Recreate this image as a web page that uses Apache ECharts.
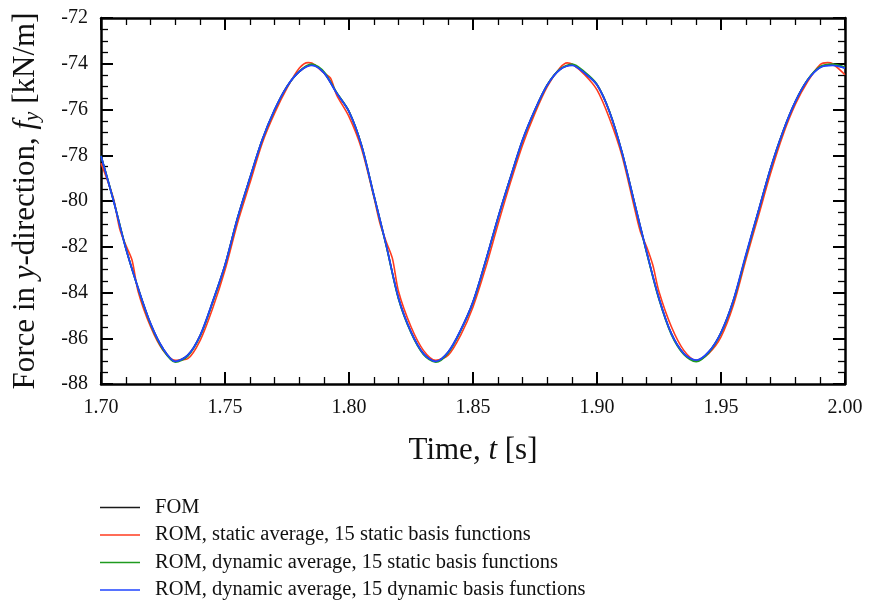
<!DOCTYPE html>
<html>
<head>
<meta charset="utf-8">
<script src="https://cdn.jsdelivr.net/npm/echarts@6/dist/echarts.min.js"></script>
<style>
  html, body { margin: 0; padding: 0; background: #fff; }
  #chart { width: 871px; height: 602px; }
</style>
</head>
<body>
<div id="chart"></div>
<script>
// Sample times [s] shared by the FOM and the two dynamic-average ROMs
const time = [
  1.700, 1.705, 1.710, 1.715, 1.720, 1.725, 1.730, 1.735, 1.740, 1.745,
  1.750, 1.755, 1.760, 1.765, 1.770, 1.775, 1.780, 1.785, 1.790, 1.795,
  1.800, 1.805, 1.810, 1.815, 1.820, 1.825, 1.830, 1.835, 1.840, 1.845,
  1.850, 1.855, 1.860, 1.865, 1.870, 1.875, 1.880, 1.885, 1.890, 1.895,
  1.900, 1.905, 1.910, 1.915, 1.920, 1.925, 1.930, 1.935, 1.940, 1.945,
  1.950, 1.955, 1.960, 1.965, 1.970, 1.975, 1.980, 1.985, 1.990, 1.995,
  2.000
];

// Full order model, f_y [kN/m]
const fom = [
  -78.03, -79.97, -82.07, -83.82, -85.36, -86.45, -87.00, -86.74, -85.87, -84.41,
  -82.80, -80.76, -79.01, -77.33, -76.01, -74.99, -74.34, -74.05, -74.41, -75.28,
  -76.09, -77.55, -79.74, -81.93, -84.26, -85.72, -86.67, -87.00, -86.60, -85.65,
  -84.41, -82.66, -80.76, -79.01, -77.33, -76.01, -74.92, -74.26, -74.05, -74.41,
  -74.92, -76.09, -77.84, -80.03, -82.22, -84.26, -85.80, -86.67, -86.97, -86.60,
  -85.75, -84.34, -82.40, -80.47, -78.57, -76.96, -75.65, -74.70, -74.16, -74.05,
  -74.19
];

// ROM, dynamic average, 15 static basis functions
const romDynStatic = [
  -78.02, -79.95, -82.05, -83.83, -85.40, -86.50, -87.05, -86.78, -85.90, -84.44,
  -82.82, -80.78, -79.02, -77.34, -76.03, -75.00, -74.32, -74.01, -74.36, -75.25,
  -76.08, -77.55, -79.75, -81.95, -84.30, -85.76, -86.71, -87.05, -86.64, -85.68,
  -84.44, -82.68, -80.78, -79.02, -77.35, -76.03, -74.92, -74.24, -74.01, -74.36,
  -74.90, -76.08, -77.85, -80.05, -82.25, -84.30, -85.84, -86.71, -87.02, -86.64,
  -85.78, -84.37, -82.42, -80.49, -78.59, -76.97, -75.66, -74.69, -74.12, -74.01,
  -74.15
];

// ROM, dynamic average, 15 dynamic basis functions
const romDynDynamic = [
  -78.03, -79.97, -82.07, -83.82, -85.36, -86.45, -87.01, -86.74, -85.87, -84.41,
  -82.80, -80.76, -79.01, -77.33, -76.01, -74.99, -74.34, -74.07, -74.41, -75.28,
  -76.09, -77.55, -79.74, -81.93, -84.26, -85.72, -86.67, -87.01, -86.60, -85.65,
  -84.41, -82.66, -80.76, -79.01, -77.33, -76.01, -74.92, -74.26, -74.07, -74.41,
  -74.92, -76.09, -77.84, -80.03, -82.22, -84.26, -85.80, -86.67, -86.96, -86.60,
  -85.75, -84.34, -82.36, -80.47, -78.57, -76.96, -75.65, -74.70, -74.16, -74.07,
  -74.19
];

// ROM, static average, 15 static basis functions (denser sampling around its wiggles)
const timeRomStatic = [
  1.700, 1.705, 1.7075, 1.710, 1.7125, 1.715, 1.720, 1.725, 1.730, 1.735,
  1.740, 1.745, 1.750, 1.755, 1.760, 1.765, 1.770, 1.775, 1.780, 1.7835,
  1.785, 1.790, 1.7925, 1.795, 1.800, 1.805, 1.810, 1.8125, 1.815, 1.8175,
  1.820, 1.825, 1.830, 1.835, 1.840, 1.845, 1.850, 1.855, 1.860, 1.865,
  1.870, 1.875, 1.880, 1.885, 1.888, 1.890, 1.895, 1.900, 1.905, 1.910,
  1.915, 1.9175, 1.920, 1.9225, 1.925, 1.930, 1.935, 1.940, 1.945, 1.950,
  1.955, 1.960, 1.965, 1.970, 1.975, 1.980, 1.985, 1.990, 1.993, 1.995,
  2.000
];
const romStatic = [
  -78.35, -79.88, -81.20, -81.93, -82.58, -83.97, -85.50, -86.53, -86.96, -86.89,
  -86.09, -84.70, -83.02, -80.98, -79.23, -77.47, -76.16, -75.07, -74.19, -73.95,
  -73.97, -74.41, -74.62, -75.36, -76.31, -77.69, -79.81, -80.98, -81.78, -82.51,
  -83.97, -85.50, -86.53, -86.96, -86.74, -85.87, -84.63, -82.95, -81.05, -79.23,
  -77.55, -76.16, -74.99, -74.19, -73.96, -74.02, -74.48, -75.14, -76.38, -77.99,
  -80.25, -81.34, -82.00, -82.80, -83.97, -85.50, -86.53, -86.96, -86.67, -85.94,
  -84.55, -82.58, -80.69, -78.79, -77.11, -75.77, -74.77, -74.04, -73.95, -74.00,
  -74.48
];

// Axis ticks
const xTicks = [1.70, 1.75, 1.80, 1.85, 1.90, 1.95, 2.00];
const yTicks = [-88, -86, -84, -82, -80, -78, -76, -74, -72];

const seriesNames = [
  'FOM',
  'ROM, static average, 15 static basis functions',
  'ROM, dynamic average, 15 static basis functions',
  'ROM, dynamic average, 15 dynamic basis functions'
];
const seriesColors = ['#1a1a1a', '#ff3b1f', '#1f9a1f', '#1f44ff'];
const seriesWidths = [1.6, 1.6, 1.7, 1.8];

const pairs = (xs, ys) => xs.map((x, i) => [x, ys[i]]);
const seriesData = [
  pairs(time, fom),
  pairs(timeRomStatic, romStatic),
  pairs(time, romDynStatic),
  pairs(time, romDynDynamic)
];

const FONT = '"Liberation Serif", "DejaVu Serif", serif';
const tickStyle = { color: '#000', width: 2 };
const minorStyle = { color: '#000', width: 1.3 };

function frameAxis(base, showLabels, labelMargin, minorSplit, formatter) {
  return Object.assign({
    type: 'value',
    axisLine: { show: true, onZero: false, lineStyle: { color: '#000', width: 2.5 } },
    axisTick: { show: true, inside: true, length: 12, lineStyle: tickStyle },
    minorTick: { show: true, splitNumber: minorSplit, length: 7, lineStyle: minorStyle },
    splitLine: { show: false },
    minorSplitLine: { show: false },
    axisLabel: {
      show: showLabels, color: '#111', fontFamily: FONT, fontSize: 20,
      margin: labelMargin, formatter: formatter
    }
  }, base);
}

const xFmt = v => Number(v).toFixed(2);
const yFmt = v => String(Math.round(v));

const chart = echarts.init(document.getElementById('chart'), null, { renderer: 'canvas' });

chart.setOption({
  animation: false,
  backgroundColor: '#fff',
  grid: { left: 101, right: 26, top: 18, bottom: 218, containLabel: false },
  xAxis: [
    frameAxis({
      position: 'bottom',
      min: xTicks[0], max: xTicks[xTicks.length - 1], interval: 0.05,
      name: '{r|Time, }{i|t}{r| [s]}',
      nameLocation: 'middle',
      nameGap: 51,
      nameTextStyle: {
        rich: {
          r: { fontFamily: FONT, fontSize: 31, color: '#111' },
          i: { fontFamily: FONT, fontSize: 31, fontStyle: 'italic', color: '#111' }
        }
      }
    }, true, 14, 5, xFmt),
    frameAxis({
      position: 'top',
      min: xTicks[0], max: xTicks[xTicks.length - 1], interval: 0.05
    }, false, 8, 5, xFmt)
  ],
  yAxis: [
    frameAxis({
      position: 'left',
      min: yTicks[0], max: yTicks[yTicks.length - 1], interval: 2,
      name: '{r|Force in }{i|y}{r|-direction, }{i|f}{s|y}{r| [kN/m]}',
      nameLocation: 'middle',
      nameGap: 58,
      nameRotate: 90,
      nameTextStyle: {
        rich: {
          r: { fontFamily: FONT, fontSize: 31, color: '#111' },
          i: { fontFamily: FONT, fontSize: 31, fontStyle: 'italic', color: '#111' },
          s: { fontFamily: FONT, fontSize: 21, fontStyle: 'italic', color: '#111', padding: [14, 0, 0, 0] }
        }
      }
    }, true, 13, 4, yFmt),
    frameAxis({
      position: 'right',
      min: yTicks[0], max: yTicks[yTicks.length - 1], interval: 2
    }, false, 8, 4, yFmt)
  ],
  legend: {
    orient: 'vertical',
    left: 100,
    top: 497,
    height: 110,
    padding: 0,
    itemWidth: 40,
    itemHeight: 14,
    itemGap: 6.5,
    icon: 'path://M0,6.2 L40,6.2 L40,7.8 L0,7.8 Z',
    textStyle: { fontFamily: FONT, fontSize: 20.5, color: '#111', padding: [0, 0, 0, 10] },
    data: seriesNames
  },
  series: seriesNames.map((name, i) => ({
    name: name,
    type: 'line',
    xAxisIndex: 0,
    yAxisIndex: 0,
    data: seriesData[i],
    symbol: 'none',
    smooth: 0.3,
    color: seriesColors[i],
    lineStyle: { color: seriesColors[i], width: seriesWidths[i] },
    z: 2 + i
  }))
});
</script>
</body>
</html>
